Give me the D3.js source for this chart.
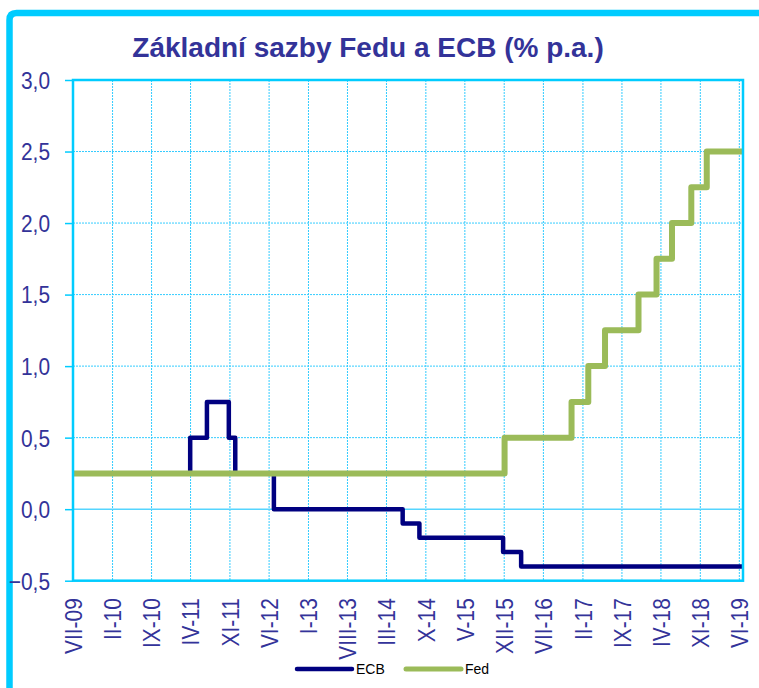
<!DOCTYPE html>
<html><head><meta charset="utf-8">
<script src="https://cdn.jsdelivr.net/npm/d3@7"></script>
<style>body{margin:0;background:#fff;}svg{display:block;}</style>
</head><body>
<script>
const title = "Základní sazby Fedu a ECB (% p.a.)";
// category months shown on the axis (label, representative date)
const tickLabels = ["VII-09","II-10","IX-10","IV-11","XI-11","VI-12","I-13","VIII-13","III-14","X-14","V-15","XII-15","VII-16","II-17","IX-17","IV-18","XI-18","VI-19"];
const tickDates = ["2009-07-15","2010-02-15","2010-09-15","2011-04-15","2011-11-15","2012-06-15","2013-01-15","2013-08-15","2014-03-15","2014-10-15","2015-05-15","2015-12-15","2016-07-15","2017-02-15","2017-09-15","2018-04-15","2018-11-15","2019-06-15"];
const axisStart = "2009-07-15", axisEnd = "2019-07-05";
// ECB rate (step changes)
const ecbDates = ["2009-07-01","2011-04-13","2011-07-13","2011-11-09","2011-12-14","2012-07-11","2014-06-11","2014-09-10","2015-12-09","2016-03-16","2019-07-05"];
const ecbRates = [0.25,0.5,0.75,0.5,0.25,0,-0.1,-0.2,-0.3,-0.4,-0.4];
// Fed rate (step changes)
const fedDates = ["2009-07-01","2015-12-17","2016-12-15","2017-03-16","2017-06-15","2017-12-14","2018-03-22","2018-06-14","2018-09-27","2018-12-20","2019-07-05"];
const fedRates = [0.25,0.5,0.75,1.0,1.25,1.5,1.75,2.0,2.25,2.5,2.5];
const yTicks = [-0.5,0,0.5,1,1.5,2,2.5,3];
const seriesNames = ["ECB","Fed"];
const seriesColors = ["#000080","#9BBB59"];

const parse = d3.utcParse("%Y-%m-%d");
const W = 759, H = 688;
const pL = 73, pR = 743, pT = 80, pB = 580.7;
const svg = d3.select("body").append("svg").attr("width", W).attr("height", H);

// outer frame
svg.append("path")
  .attr("d", "M9.5,700 L9.5,20 Q9.5,13 16.5,13 L780,13")
  .attr("fill","none").attr("stroke","#00CCFF").attr("stroke-width",6.5);

const x = d3.scaleUtc().domain([parse(axisStart), parse(axisEnd)]).range([pL, pR]);
const y = d3.scaleLinear().domain([-0.5, 3]).range([pB, pT]);
const ticks = tickDates.map((d, i) => ({date: parse(d), label: tickLabels[i]}));

svg.append("clipPath").attr("id","clip").append("rect")
  .attr("x", pL).attr("y", pT - 10).attr("width", pR - pL).attr("height", pB - pT + 20);

// gridlines
const grid = svg.append("g");
grid.selectAll("line.v").data(ticks.slice(1)).join("line").attr("class","v")
  .attr("x1", d => x(d.date)).attr("x2", d => x(d.date)).attr("y1", pT).attr("y2", pB)
  .attr("stroke","#33CCFF").attr("stroke-width",1).attr("stroke-dasharray","2,1");
grid.selectAll("line.h").data(yTicks.filter(v => v > -0.5 && v < 3 && v !== 0)).join("line").attr("class","h")
  .attr("x1", pL).attr("x2", pR).attr("y1", d => y(d)).attr("y2", d => y(d))
  .attr("stroke","#33CCFF").attr("stroke-width",1).attr("stroke-dasharray","2,1");
grid.append("line").attr("x1", pL).attr("x2", pR).attr("y1", y(0)).attr("y2", y(0))
  .attr("stroke","#55D5FF").attr("stroke-width",1.5);

// y axis
const fmt = d => d3.format(".1f")(d).replace(".", ",");
const yAxis = d3.axisLeft(y).tickValues(yTicks).tickSize(8).tickFormat(fmt);
const ya = svg.append("g").attr("transform", `translate(${pL},0)`).call(yAxis);
ya.select(".domain").remove();
ya.selectAll(".tick line").attr("stroke","#00CCFF").attr("stroke-width",1.5);
ya.selectAll(".tick text").remove();
ya.selectAll(".tick").append("text")
  .attr("transform", "translate(-23,0) scale(0.87,1)")
  .attr("text-anchor","end").attr("dy","0.35em")
  .attr("fill","#333399").attr("font-family","'Liberation Sans', Arial, sans-serif").attr("font-size",24)
  .text(d => fmt(d));

// x axis labels
const xAxis = d3.axisBottom(x).tickValues(ticks.map(t => t.date)).tickSize(0)
  .tickFormat((d, i) => tickLabels[i]);
const xa = svg.append("g").attr("transform", `translate(0,${pB})`).call(xAxis);
xa.select(".domain").remove();
xa.selectAll(".tick text").remove();
xa.selectAll(".tick").append("text")
  .attr("transform", "translate(0,17.5) rotate(-90) scale(0.87,1)")
  .attr("text-anchor","end").attr("dy","0.35em")
  .attr("fill","#333399").attr("font-family","'Liberation Sans', Arial, sans-serif").attr("font-size",24)
  .text((d, i) => tickLabels[i]);

// lines
const line = d3.line().curve(d3.curveStepAfter).x(d => x(d[0])).y(d => y(d[1]));
const ecbData = ecbDates.map((d, i) => [parse(d), ecbRates[i]]);
const fedData = fedDates.map((d, i) => [parse(d), fedRates[i]]);
const lines = svg.append("g").attr("clip-path","url(#clip)");
lines.append("path").datum(ecbData).attr("d", line).attr("fill","none")
  .attr("stroke", seriesColors[0]).attr("stroke-width",4.5).attr("stroke-linejoin","round");
lines.append("path").datum(fedData).attr("d", line).attr("fill","none")
  .attr("stroke", seriesColors[1]).attr("stroke-width",6).attr("stroke-linejoin","round");

// plot border
svg.append("rect").attr("x", pL).attr("y", pT).attr("width", pR - pL).attr("height", pB - pT)
  .attr("fill","none").attr("stroke","#00CCFF").attr("stroke-width",2.5);

// title
svg.append("text").attr("x", 368).attr("y", 57).attr("text-anchor","middle")
  .attr("font-family","'Liberation Sans', Arial, sans-serif").attr("font-weight","bold").attr("font-size",28)
  .attr("fill","#333399").text(title);

// legend
const lg = svg.append("g");
const legendX = [297, 406];
seriesNames.forEach((n, i) => {
  lg.append("line").attr("x1", legendX[i]).attr("x2", legendX[i] + 55).attr("y1", 669).attr("y2", 669)
    .attr("stroke", seriesColors[i]).attr("stroke-width", i === 0 ? 4.5 : 5).attr("stroke-linecap","round");
  lg.append("text").attr("x", legendX[i] + 59).attr("y", 674).attr("font-family","'Liberation Sans', Arial, sans-serif")
    .attr("font-size",14).attr("fill","#000").text(n);
});
</script>
</body></html>
